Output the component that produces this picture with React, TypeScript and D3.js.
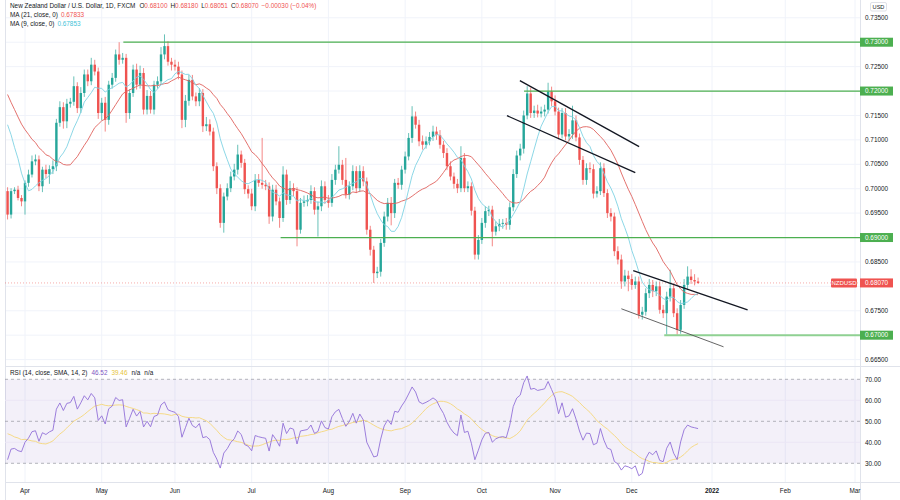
import React from 'react';
import * as d3 from 'd3';

// ---------- DATA ----------
// closes before the visible window (used only to seed MA / RSI), bar index -45 .. -6
const preCloses = [
  0.7170, 0.7190, 0.7160, 0.7140, 0.7180, 0.7200, 0.7230, 0.7200, 0.7180, 0.7210,
  0.7230, 0.7250, 0.7270, 0.7220, 0.7200, 0.7240, 0.7280, 0.7300, 0.7280, 0.7310,
  0.7330, 0.7310, 0.7300, 0.7280, 0.7250,
  0.7230, 0.7270, 0.7200, 0.7230, 0.7170, 0.7200, 0.7101,
  0.7180, 0.7230, 0.7190, 0.7240, 0.7200, 0.7167,
  0.7030, 0.6995,
];
// visible daily closes, bar index -5 (25 Mar 2021) .. 193 (28 Dec 2021)
const closes = [
  0.6947, 0.6995, 0.6998, 0.6981, 0.6974,
  0.7012, 0.7029, 0.7056, 0.7060, 0.7005, 0.7039, 0.7030, 0.7040, 0.7046, 0.7135,
  0.7167, 0.7138, 0.7174, 0.7178, 0.7210, 0.7165, 0.7196, 0.7234, 0.7220, 0.7254,
  0.7240, 0.7155, 0.7176, 0.7141, 0.7213, 0.7227, 0.7275, 0.7264, 0.7268, 0.7155,
  0.7196, 0.7244, 0.7213, 0.7237, 0.7162, 0.7190, 0.7162, 0.7213, 0.7220, 0.7275,
  0.7292, 0.7260, 0.7254, 0.7250, 0.7234, 0.7141, 0.7180, 0.7223, 0.7189, 0.7179,
  0.7196, 0.7128, 0.7132, 0.7117, 0.7046, 0.7001, 0.6930, 0.6984, 0.7001, 0.7025,
  0.7039, 0.7070, 0.7053, 0.6999, 0.6990, 0.6964, 0.7018, 0.7012, 0.7008, 0.7005,
  0.6943, 0.6998, 0.6974, 0.6940, 0.7029, 0.6977, 0.7001, 0.6995, 0.6916, 0.6971,
  0.6974, 0.6977, 0.6995, 0.6957, 0.6964, 0.7005, 0.6977, 0.6971, 0.7018, 0.7039,
  0.7049, 0.7018, 0.6988, 0.7005, 0.7036, 0.7001, 0.7036, 0.7015, 0.6916, 0.6875,
  0.6827, 0.6830, 0.6889, 0.6943, 0.6971, 0.6950, 0.7012, 0.7008, 0.7039, 0.7066,
  0.7104, 0.7148, 0.7131, 0.7097, 0.7090, 0.7097, 0.7106, 0.7117, 0.7110, 0.7090,
  0.7073, 0.7046, 0.7025, 0.7010, 0.7001, 0.7063, 0.7001, 0.7005, 0.6955, 0.6865,
  0.6895, 0.6930, 0.6954, 0.6957, 0.6912, 0.6923, 0.6928, 0.6930, 0.6926, 0.6962,
  0.7030, 0.7068, 0.7082, 0.7150, 0.7195, 0.7155, 0.7160, 0.7154, 0.7158, 0.7162,
  0.7199, 0.7179, 0.7158, 0.7111, 0.7155, 0.7107, 0.7112, 0.7140, 0.7105, 0.7059,
  0.7018, 0.7042, 0.7040, 0.6990, 0.6995, 0.7042, 0.6991, 0.6950, 0.6943, 0.6872,
  0.6855, 0.6810, 0.6822, 0.6815, 0.6803, 0.6810, 0.6742, 0.6748, 0.6786, 0.6803,
  0.6790, 0.6800, 0.6752, 0.6745, 0.6779, 0.6796, 0.6745, 0.6711, 0.6762, 0.6803,
  0.6820, 0.6813, 0.6810, 0.6807,
];
// upper / lower shadow lengths in pips beyond the body
const wickUp = [
  8, 6, 5, 8, 6,
  5, 10, 12, 10, 8, 6, 10, 8, 12, 8,
  12, 10, 10, 8, 20, 8, 12, 10, 10, 14,
  10, 8, 10, 12, 8, 10, 10, 25, 10, 8,
  8, 10, 12, 15, 10, 12, 10, 8, 10, 15,
  24, 10, 8, 10, 10, 8, 12, 10, 10, 8,
  10, 8, 15, 10, 8, 8, 8, 8, 10, 10,
  12, 20, 8, 8, 8, 10, 12, 12, 92, 10,
  8, 10, 10, 8, 17, 10, 15, 10, 8, 10,
  12, 10, 12, 8, 10, 12, 10, 10, 12, 10,
  38, 10, 45, 10, 12, 10, 12, 10, 8, 8,
  8, 10, 8, 10, 10, 12, 8, 10, 8, 10,
  10, 21, 10, 10, 12, 10, 10, 12, 10, 10,
  8, 10, 10, 8, 10, 24, 10, 10, 8, 8,
  10, 10, 10, 8, 8, 10, 10, 8, 10, 10,
  10, 10, 10, 10, 15, 12, 10, 12, 10, 10,
  18, 10, 12, 8, 10, 10, 10, 30, 10, 8,
  8, 10, 12, 10, 10, 12, 10, 8, 10, 8,
  10, 10, 12, 10, 10, 10, 10, 10, 10, 12,
  10, 10, 10, 10, 10, 38, 10, 10, 10, 12,
  21, 15, 12, 8,
];
const wickDown = [
  10, 8, 6, 5, 10,
  27, 8, 6, 8, 10, 12, 8, 20, 10, 10,
  8, 15, 14, 8, 8, 10, 10, 8, 10, 8,
  8, 12, 15, 24, 10, 8, 8, 10, 8, 20,
  12, 8, 10, 8, 10, 10, 8, 10, 8, 8,
  10, 8, 12, 8, 10, 17, 15, 10, 8, 10,
  10, 12, 10, 8, 10, 12, 10, 20, 8, 8,
  8, 10, 10, 10, 10, 8, 10, 8, 8, 8,
  15, 10, 8, 20, 8, 10, 8, 10, 34, 8,
  8, 10, 8, 10, 55, 10, 8, 10, 8, 10,
  8, 10, 8, 10, 8, 10, 8, 10, 10, 12,
  20, 10, 10, 8, 10, 25, 10, 8, 10, 8,
  8, 10, 8, 10, 10, 8, 8, 8, 10, 8,
  10, 8, 8, 10, 10, 8, 8, 8, 10, 10,
  10, 8, 10, 10, 30, 8, 10, 10, 10, 10,
  8, 8, 10, 10, 8, 10, 10, 8, 8, 10,
  8, 10, 8, 10, 8, 8, 10, 10, 8, 10,
  10, 10, 8, 10, 8, 8, 8, 10, 10, 10,
  10, 15, 10, 25, 10, 8, 8, 10, 8, 10,
  12, 10, 8, 10, 44, 10, 8, 10, 8, 8,
  10, 8, 8, 2,
];
const firstBar = -5;

const monthLabels = ['Apr', 'May', 'Jun', 'Jul', 'Aug', 'Sep', 'Oct', 'Nov', 'Dec', '2022', 'Feb', 'Mar'];
const monthBar = [0, 22, 43, 65, 87, 109, 131, 152, 174, 197, 218, 238];

const priceTicks = [0.735, 0.725, 0.715, 0.71, 0.705, 0.7, 0.695, 0.685, 0.675, 0.665];
const gridPrices = [0.735, 0.73, 0.725, 0.72, 0.715, 0.71, 0.705, 0.7, 0.695, 0.69, 0.685, 0.68, 0.675, 0.67, 0.665];

const levelPrice = [0.73, 0.72, 0.69, 0.67];
const levelFromBar = [28.2, 143.1, 73.3, 183.3];

const trendFromBar = [141.9, 138.2, 174.4, 171.0];
const trendFromPrice = [0.72213, 0.71496, 0.6832, 0.67541];
const trendToBar = [176.1, 175.0, 207.2, 200.3];
const trendToPrice = [0.70861, 0.70328, 0.6752, 0.66762];

const rsiTicks = [70, 60, 50, 40, 30];
const rsiBands = [70, 50, 30];

const lastPrice = 0.6807;
const legendOHLC = ['0.68100', '0.68180', '0.68051', '0.68070'];
const legendChange = '−0.00030 (−0.04%)';
const ma21Label = '0.67833';
const ma9Label = '0.67853';
const rsiLabel = '46.52';
const rsiMaLabel = '39.46';

// ---------- helpers ----------
function sma(v: (number | null)[], n: number): (number | null)[] {
  return v.map((_, i) => {
    if (i < n - 1) return null;
    const s = v.slice(i - n + 1, i + 1);
    if (s.some((d) => d == null)) return null;
    return d3.mean(s as number[]) as number;
  });
}
function rsiCalc(v: number[], n: number): (number | null)[] {
  const out: (number | null)[] = v.map(() => null);
  let up = 0, dn = 0;
  for (let i = 1; i < v.length; i++) {
    const ch = v[i] - v[i - 1];
    const u = Math.max(ch, 0), d = Math.max(-ch, 0);
    if (i <= n) {
      up += u; dn += d;
      if (i === n) { up /= n; dn /= n; out[i] = dn === 0 ? 100 : 100 - 100 / (1 + up / dn); }
    } else {
      up = (up * (n - 1) + u) / n;
      dn = (dn * (n - 1) + d) / n;
      out[i] = dn === 0 ? 100 : 100 - 100 / (1 + up / dn);
    }
  }
  return out;
}

const FONT = '"Liberation Sans", Arial, sans-serif';
const GREEN = '#26a69a';
const RED = '#ef5350';

export default function App() {
  const x = d3.scaleLinear().domain([0, 238]).range([25, 855]);
  const y = d3.scaleLinear().domain([0.665, 0.735]).range([359.6, 17.8]);
  const ry = d3.scaleLinear().domain([30, 70]).range([463.3, 379.3]);

  const all = preCloses.concat(closes);
  const off = preCloses.length;
  const ma21 = sma(all, 21).slice(off);
  const ma9 = sma(all, 9).slice(off);
  const rsiAll = rsiCalc(all, 14);
  const rsiMaAll = sma(rsiAll, 14);
  const rsi = rsiAll.slice(off);
  const rsiMa = rsiMaAll.slice(off);

  const bars = closes.map((c, i) => {
    const o = i === 0 ? preCloses[preCloses.length - 1] : closes[i - 1];
    const hi = Math.max(o, c) + wickUp[i] / 10000;
    const lo = Math.min(o, c) - wickDown[i] / 10000;
    return { bar: firstBar + i, o, c, hi, lo };
  });

  const line = (vals: (number | null)[], sc: (v: number) => number) =>
    d3.line<number | null>()
      .defined((d) => d != null)
      .x((_, i) => x(firstBar + i))
      .y((d) => sc(d as number))(vals) || '';

  const paneRight = 860;
  const mainBottom = 366;
  const rsiBottom = 482;
  const bw = 2.4;

  return (
    <svg width={900} height={500} style={{ position: 'absolute', left: 0, top: 0, background: '#fff' }} fontFamily={FONT}>
      <defs>
        <clipPath id="mainClip"><rect x={5} y={0} width={paneRight - 5} height={mainBottom} /></clipPath>
        <clipPath id="rsiClip"><rect x={5} y={mainBottom} width={paneRight - 5} height={rsiBottom - mainBottom} /></clipPath>
      </defs>
      <rect x={0} y={0} width={900} height={500} fill="#fff" />
      {/* grid */}
      {monthBar.map((b, i) => (
        <line key={'vg' + i} x1={x(b)} x2={x(b)} y1={0} y2={rsiBottom} stroke="#f0f3fa" strokeWidth={1} />
      ))}
      {gridPrices.map((p, i) => (
        <line key={'hg' + i} x1={5} x2={paneRight} y1={y(p)} y2={y(p)} stroke="#f0f3fa" strokeWidth={1} />
      ))}
      {/* frame */}
      <line x1={5.5} x2={5.5} y1={0} y2={500} stroke="#e0e3eb" strokeWidth={1} />
      <line x1={paneRight + 0.5} x2={paneRight + 0.5} y1={0} y2={500} stroke="#e0e3eb" strokeWidth={1} />
      <line x1={5} x2={900} y1={mainBottom + 0.5} y2={mainBottom + 0.5} stroke="#e0e3eb" strokeWidth={1} />
      <line x1={5} x2={900} y1={rsiBottom + 0.5} y2={rsiBottom + 0.5} stroke="#e0e3eb" strokeWidth={1} />

      {/* main pane */}
      <g clipPath="url(#mainClip)">
        <line x1={5} x2={paneRight} y1={y(lastPrice)} y2={y(lastPrice)} stroke={RED} strokeOpacity={0.6} strokeWidth={0.8} strokeDasharray="1,2" />
        {bars.map((b, i) => {
          const up = b.c >= b.o;
          const col = up ? GREEN : RED;
          const cx = x(b.bar);
          const top = y(Math.max(b.o, b.c));
          const h = Math.max(0.8, y(Math.min(b.o, b.c)) - top);
          return (
            <g key={'c' + i}>
              <line x1={cx} x2={cx} y1={y(b.hi)} y2={y(b.lo)} stroke={col} strokeWidth={0.7} />
              <rect x={cx - bw / 2} y={top} width={bw} height={h} fill={col} />
            </g>
          );
        })}
        <path d={line(ma21, y)} fill="none" stroke="#e0625d" strokeWidth={0.9} />
        <path d={line(ma9, y)} fill="none" stroke="#7fd3e3" strokeWidth={0.9} />
        {levelPrice.map((p, i) => (
          <line key={'lv' + i} x1={x(levelFromBar[i])} x2={paneRight} y1={y(p)} y2={y(p)}
            stroke={i === 3 ? '#8fd192' : '#4caf50'} strokeWidth={i === 3 ? 2 : 1.2} />
        ))}
        {trendFromBar.map((b, i) => (
          <line key={'tl' + i} x1={x(b)} y1={y(trendFromPrice[i])} x2={x(trendToBar[i])} y2={y(trendToPrice[i])}
            stroke={i === 3 ? '#555' : '#131722'} strokeWidth={i === 3 ? 0.9 : 1.3} />
        ))}
      </g>

      {/* legend */}
      <text x={10} y={8.3} fontSize={6.4} fill="#131722">
        New Zealand Dollar / U.S. Dollar, 1D, FXCM
        <tspan dx={4}>O</tspan><tspan fill={RED}>{legendOHLC[0]}</tspan>
        <tspan dx={3}>H</tspan><tspan fill={RED}>{legendOHLC[1]}</tspan>
        <tspan dx={3}>L</tspan><tspan fill={RED}>{legendOHLC[2]}</tspan>
        <tspan dx={3}>C</tspan><tspan fill={RED}>{legendOHLC[3]}</tspan>
        <tspan dx={3} fill={RED}>{legendChange}</tspan>
      </text>
      <text x={10} y={17.3} fontSize={6.4} fill="#131722">
        MA (21, close, 0)<tspan dx={3} fill={RED}>{ma21Label}</tspan>
      </text>
      <text x={10} y={26.3} fontSize={6.4} fill="#131722">
        MA (9, close, 0)<tspan dx={3} fill="#3fc3d8">{ma9Label}</tspan>
      </text>

      {/* rsi pane */}
      <rect x={5} y={ry(70)} width={paneRight - 5} height={ry(30) - ry(70)} fill="#7e57c2" fillOpacity={0.09} />
      {[60, 40].map((v) => (
        <line key={'rg' + v} x1={5} x2={paneRight} y1={ry(v)} y2={ry(v)} stroke="#ebe7f5" strokeWidth={1} />
      ))}
      {rsiBands.map((v) => (
        <line key={'rb' + v} x1={5} x2={paneRight} y1={ry(v)} y2={ry(v)} stroke="#9598a1" strokeWidth={0.7} strokeDasharray="3,3" />
      ))}
      <g clipPath="url(#rsiClip)">
        <path d={line(rsiMa, ry)} fill="none" stroke="#f5d77a" strokeWidth={0.9} />
        <path d={line(rsi, ry)} fill="none" stroke="#9270d8" strokeWidth={0.9} />
      </g>
      <text x={10} y={375.3} fontSize={6.4} fill="#131722">
        RSI (14, close, SMA, 14, 2)
        <tspan dx={4} fill="#7e57c2">{rsiLabel}</tspan>
        <tspan dx={4} fill="#e6c440">{rsiMaLabel}</tspan>
        <tspan dx={4}>n/a</tspan>
        <tspan dx={4}>n/a</tspan>
      </text>

      {/* time axis */}
      {monthLabels.map((m, i) => (
        <text key={'m' + i} x={x(monthBar[i])} y={492.5} fontSize={6.4} textAnchor="middle" fill="#131722"
          fontWeight={m === '2022' ? 'bold' : 'normal'}>{m}</text>
      ))}

      {/* price axis */}
      {priceTicks.map((p, i) => (
        <text key={'pt' + i} x={865} y={y(p) + 2.2} fontSize={6.4} fill="#131722">{p.toFixed(5)}</text>
      ))}
      {levelPrice.map((p, i) => (
        <g key={'lb' + i}>
          <rect x={paneRight} y={y(p) - 4.5} width={33} height={9} fill="#4caf50" />
          <text x={865} y={y(p) + 2.2} fontSize={6.4} fill="#fff">{p.toFixed(5)}</text>
        </g>
      ))}
      <rect x={831} y={y(lastPrice) - 4.5} width={26} height={9} fill={RED} rx={1} />
      <text x={844} y={y(lastPrice) + 2.2} fontSize={6} fill="#fff" textAnchor="middle">NZDUSD</text>
      <rect x={paneRight} y={y(lastPrice) - 4.5} width={33} height={9} fill={RED} />
      <text x={865} y={y(lastPrice) + 2.2} fontSize={6.4} fill="#fff">{lastPrice.toFixed(5)}</text>
      <rect x={870.5} y={2.5} width={16} height={8.5} fill="#fff" stroke="#d1d4dc" strokeWidth={0.7} rx={1.5} />
      <text x={878.5} y={9} fontSize={5.6} textAnchor="middle" fill="#131722">USD</text>
      {rsiTicks.map((v) => (
        <text key={'rt' + v} x={865} y={ry(v) + 2.2} fontSize={6.4} fill="#131722">{v.toFixed(2)}</text>
      ))}
    </svg>
  );
}
